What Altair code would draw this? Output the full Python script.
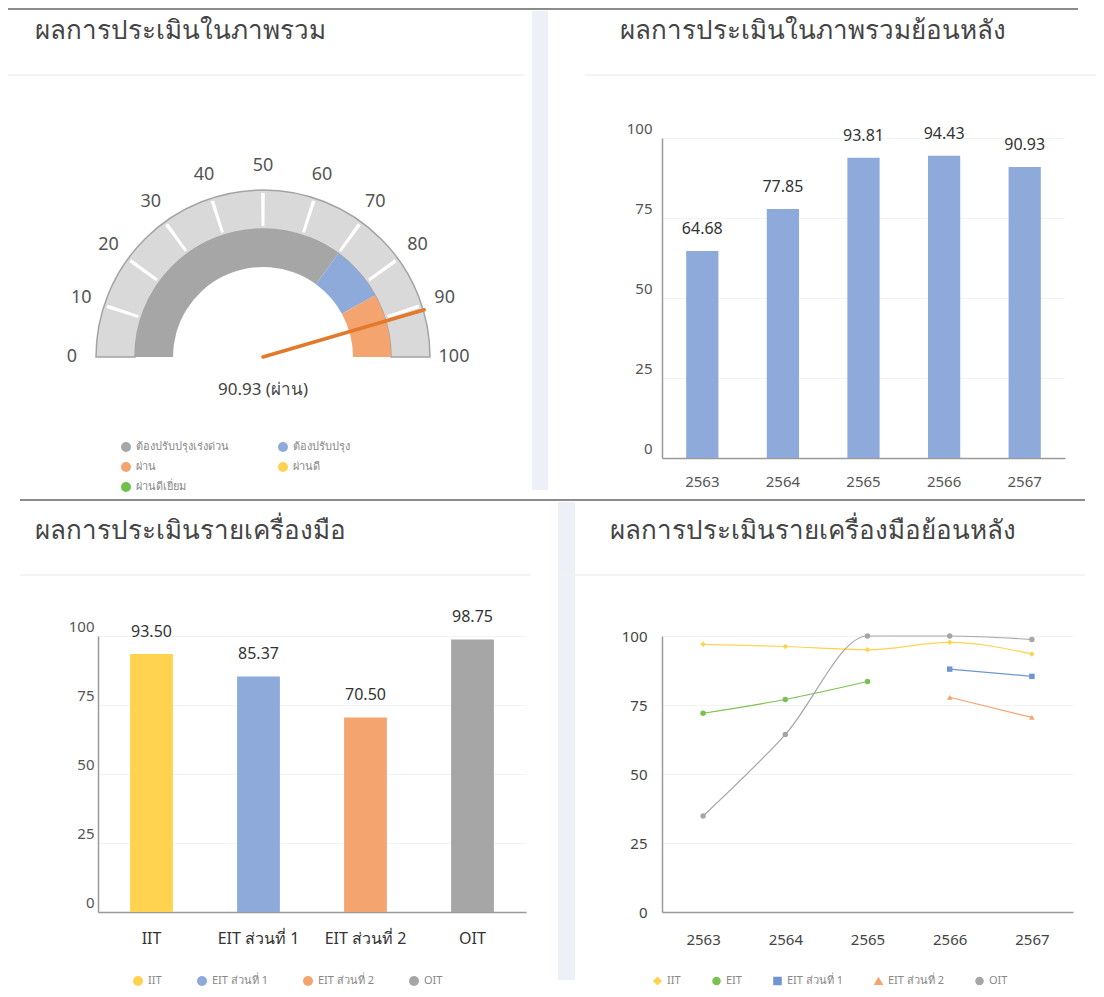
import math
import altair as alt
import pandas as pd

FONT = "Noto Sans"

# ---------------- data ----------------
gauge_title = "ผลการประเมินในภาพรวม"
overall_score = 90.93
overall_level = "ผ่าน"
gauge_ticks = [0, 10, 20, 30, 40, 50, 60, 70, 80, 90, 100]
level_names = ["ต้องปรับปรุงเร่งด่วน", "ต้องปรับปรุง", "ผ่าน", "ผ่านดี", "ผ่านดีเยี่ยม"]
level_colors = ["#a6a6a6", "#8eaadb", "#f4a46f", "#ffd34f", "#70c04a"]
band_levels = ["ต้องปรับปรุงเร่งด่วน", "ต้องปรับปรุง", "ผ่าน"]
band_start = [0, 70, 84]
band_end = [70, 84, 100]

hist_title = "ผลการประเมินในภาพรวมย้อนหลัง"
years = ["2563", "2564", "2565", "2566", "2567"]
overall_hist = [64.68, 77.85, 93.81, 94.43, 90.93]

tool_title = "ผลการประเมินรายเครื่องมือ"
tools = ["IIT", "EIT ส่วนที่ 1", "EIT ส่วนที่ 2", "OIT"]
tool_scores = [93.50, 85.37, 70.50, 98.75]
tool_colors = ["#ffd34f", "#8eaadb", "#f4a46f", "#a6a6a6"]

trend_title = "ผลการประเมินรายเครื่องมือย้อนหลัง"
series_names = ["IIT", "EIT", "EIT ส่วนที่ 1", "EIT ส่วนที่ 2", "OIT"]
series_colors = ["#ffd34f", "#7cc150", "#6f95d3", "#f4a46f", "#a6a6a6"]
series_shapes = ["diamond", "circle", "square", "triangle-up", "circle"]
iit_hist = [97.0, 96.2, 95.0, 97.7, 93.5]
eit_hist = [72.0, 77.0, 83.5, None, None]
eit1_hist = [None, None, None, 88.0, 85.37]
eit2_hist = [None, None, None, 77.8, 70.50]
oit_hist = [34.8, 64.3, 100.0, 100.0, 98.75]

# ---------------- helpers ----------------
ONE = alt.Data(values=[{}])
TITLE_SIZE = 26


def hrule(x1, x2, y, color, width=1.5):
    return alt.Chart(ONE).mark_rule(color=color, strokeWidth=width).encode(
        x=alt.value(x1), x2=alt.value(x2), y=alt.value(y))


def vband(x1, x2, y1, y2, color):
    return alt.Chart(ONE).mark_rect(color=color).encode(
        x=alt.value(x1), x2=alt.value(x2), y=alt.value(y1), y2=alt.value(y2))


def title_text(text, x, y):
    # y is the visual centre of the title line; drawn on an alphabetic baseline
    return alt.Chart(pd.DataFrame({"t": [text]})).mark_text(
        align="left", baseline="alphabetic", fontSize=TITLE_SIZE, color="#454545", font=FONT
    ).encode(text="t:N", x=alt.value(x), y=alt.value(y + 9))


# ---------------- panel 1: gauge ----------------
GW, GH = 391, 320
cx, cy = 165, 219
R_OUT, R_MID, R_IN = 167, 128, 90
theta_scale = alt.Scale(domain=[0, 100], range=[-math.pi / 2, math.pi / 2])

outer = alt.Chart(pd.DataFrame({"s": [0], "e": [100]})).mark_arc(
    radius=R_OUT, radius2=R_MID, fill="#d9d9d9", stroke="#a3a3a3", strokeWidth=1.5
).encode(theta=alt.Theta("s:Q", scale=theta_scale, stack=None), theta2="e:Q",
         x=alt.value(cx), y=alt.value(cy))

ticks_df = pd.DataFrame({"v": gauge_ticks})
tick_arcs = alt.Chart(ticks_df).transform_filter(
    "datum.v > 0 && datum.v < 100"
).transform_calculate(a="datum.v - 0.35", b="datum.v + 0.35").mark_arc(
    radius=R_OUT - 3, radius2=R_MID + 3, fill="white"
).encode(theta=alt.Theta("a:Q", scale=theta_scale, stack=None), theta2="b:Q",
         x=alt.value(cx), y=alt.value(cy))

tick_labels = alt.Chart(ticks_df).mark_text(
    radius=191, fontSize=18, color="#555", font=FONT
).encode(theta=alt.Theta("v:Q", scale=theta_scale, stack=None), text="v:Q",
         x=alt.value(cx), y=alt.value(cy))

bands = alt.Chart(pd.DataFrame({"level": band_levels, "s": band_start, "e": band_end})).mark_arc(
    radius=R_MID, radius2=R_IN
).encode(
    theta=alt.Theta("s:Q", scale=theta_scale, stack=None), theta2="e:Q",
    x=alt.value(cx), y=alt.value(cy),
    color=alt.Color("level:N", scale=alt.Scale(domain=level_names, range=level_colors),
                    legend=alt.Legend(title=None, orient="none", legendX=22, legendY=303,
                                      direction="horizontal", columns=2,
                                      symbolType="circle", symbolSize=100,
                                      labelFontSize=11, labelColor="#888", columnPadding=48,
                                      rowPadding=9, labelFont=FONT)),
)

needle = alt.Chart(pd.DataFrame({"score": [overall_score]})).transform_calculate(
    x0=f"{cx}", y0=f"{cy}",
    x1=f"{cx} - {R_OUT + 1}*cos(PI*datum.score/100)",
    y1=f"{cy} - {R_OUT + 1}*sin(PI*datum.score/100)",
).mark_rule(color="#e2792b", strokeWidth=3.5, strokeCap="round").encode(
    x=alt.X("x0:Q", scale=None, axis=None), y=alt.Y("y0:Q", scale=None, axis=None),
    x2="x1:Q", y2="y1:Q")

center = alt.Chart(pd.DataFrame({"score": [overall_score], "level": [overall_level]})).transform_calculate(
    label="format(datum.score, '.2f') + ' (' + datum.level + ')'"
).mark_text(fontSize=17, color="#444", font=FONT).encode(
    text="label:N", x=alt.value(cx), y=alt.value(cy + 33))

gauge = alt.layer(
    vband(434, 450, -127, 352, "#edf1f7"),
    hrule(-90, 980, -129, "#8c8c8c", 2),
    hrule(-90, 427, -63, "#f0f0f0", 1.5),
    title_text(gauge_title, -63, -108),
    outer, tick_arcs, tick_labels, bands, needle, center,
).properties(width=GW, height=GH)

# ---------------- panel 2: overall history ----------------
hist_df = pd.DataFrame({"year": years, "score": overall_hist})
hb = alt.Chart(hist_df)
hx = alt.X("year:N", sort=years, scale=alt.Scale(paddingInner=0.6, paddingOuter=0.3),
           axis=alt.Axis(title=None, labelAngle=0, labelFontSize=15, labelColor="#555",
                         labelPadding=16, ticks=False, domainColor="#9a9a9a", domainWidth=1.5,
                         grid=False, labelFont=FONT))
hy = alt.Y("score:Q", scale=alt.Scale(domain=[0, 100]),
           axis=alt.Axis(title=None, values=[0, 25, 50, 75, 100], labelFontSize=15,
                         labelColor="#555", labelPadding=10, ticks=False,
                         domainColor="#9a9a9a", domainWidth=1.5, gridColor="#f3f3f3",
                         labelOffset=-10, labelFont=FONT))
hist_bars = hb.mark_bar(color="#8eaadb").encode(x=hx, y=hy)
hist_text = hb.mark_text(dy=-14, baseline="bottom", fontSize=16, color="#333", font=FONT).encode(
    x=hx, y=hy, text=alt.Text("score:Q", format=".2f"))
hist = alt.layer(
    hrule(-77, 453, -63, "#f0f0f0", 1.5),
    title_text(hist_title, -42, -108),
    hist_bars, hist_text,
).properties(width=403, height=320)

# ---------------- panel 3: by tool ----------------
tool_df = pd.DataFrame({"tool": tools, "score": tool_scores})
tb = alt.Chart(tool_df)
tx = alt.X("tool:N", sort=tools, scale=alt.Scale(paddingInner=0.6, paddingOuter=0.3),
           axis=alt.Axis(title=None, labelAngle=0, labelFontSize=16, labelColor="#333",
                         labelPadding=18, ticks=False, domainColor="#9a9a9a", domainWidth=1.5,
                         grid=False, labelFont=FONT))
ty = alt.Y("score:Q", scale=alt.Scale(domain=[0, 100]),
           axis=alt.Axis(title=None, values=[0, 25, 50, 75, 100], labelFontSize=15,
                         labelColor="#555", labelPadding=4, ticks=False,
                         domainColor="#9a9a9a", domainWidth=1.5, gridColor="#f3f3f3",
                         labelOffset=-10, labelFont=FONT))
tool_bars = tb.mark_bar().encode(
    x=tx, y=ty,
    color=alt.Color("tool:N", scale=alt.Scale(domain=tools, range=tool_colors),
                    legend=alt.Legend(title=None, orient="none", direction="horizontal",
                                      legendX=34, legendY=339, symbolType="circle",
                                      symbolSize=100, labelFontSize=11, labelColor="#888",
                                      columnPadding=34, labelFont=FONT)))
tool_text = tb.mark_text(dy=-14, baseline="bottom", fontSize=16, color="#333", font=FONT).encode(
    x=tx, y=ty, text=alt.Text("score:Q", format=".2f"))
tool = alt.layer(
    vband(460, 477, -134, 344, "#edf1f7"),
    hrule(-78, 987, -136, "#8c8c8c", 2),
    hrule(-78, 432, -61, "#f0f0f0", 1.5),
    title_text(tool_title, -63, -106),
    tool_bars, tool_text,
).properties(width=428, height=276)

# ---------------- panel 4: by tool history ----------------
rows = []
for name, vals in zip(series_names, [iit_hist, eit_hist, eit1_hist, eit2_hist, oit_hist]):
    for yr, v in zip(years, vals):
        if v is not None:
            rows.append({"year": yr, "series": name, "value": v})
trend_df = pd.DataFrame(rows)
lx = alt.X("year:N", sort=years, scale=alt.Scale(type="point", padding=0.5),
           axis=alt.Axis(title=None, labelAngle=0, labelFontSize=15, labelColor="#444",
                         labelPadding=20, ticks=False, domainColor="#9a9a9a", domainWidth=1.5,
                         grid=False, labelFont=FONT))
ly = alt.Y("value:Q", scale=alt.Scale(domain=[0, 100]),
           axis=alt.Axis(title=None, values=[0, 25, 50, 75, 100], labelFontSize=15,
                         labelColor="#444", labelPadding=15, ticks=False,
                         domainColor="#9a9a9a", domainWidth=1.5, gridColor="#f3f3f3",
                         labelFont=FONT))
lcolor = alt.Color("series:N", scale=alt.Scale(domain=series_names, range=series_colors),
                   legend=alt.Legend(title=None, orient="none", direction="horizontal",
                                     legendX=-10, legendY=339, symbolType="circle",
                                     symbolSize=50, labelFontSize=11, labelColor="#888",
                                     columnPadding=28, labelFont=FONT))
trend_lines = alt.Chart(trend_df).mark_line(interpolate="monotone", strokeWidth=1.2).encode(
    x=lx, y=ly, color=lcolor)
trend_points = alt.Chart(trend_df).mark_point(filled=True, size=30, opacity=1).encode(
    x=lx, y=ly,
    color=alt.Color("series:N", scale=alt.Scale(domain=series_names, range=series_colors), legend=None),
    shape=alt.Shape("series:N", scale=alt.Scale(domain=series_names, range=series_shapes), legend=None))
trend = alt.layer(
    hrule(-102, 423, -61, "#f0f0f0", 1.5),
    title_text(trend_title, -52, -106),
    trend_lines, trend_points,
).properties(width=411, height=276)

chart = alt.concat(
    gauge, hist, tool, trend, columns=2,
    spacing={"row": 178, "column": 136}, align="none", bounds="flush",
).resolve_scale(color="independent", shape="independent").properties(
    padding={"left": 90, "top": 130, "right": 998, "bottom": 850},
    autosize=alt.AutoSizeParams(type="none"),
).configure(font=FONT).configure_view(strokeWidth=0, stroke="transparent")

chart.save("out.html", embed_options={"renderer": "svg", "actions": False})
